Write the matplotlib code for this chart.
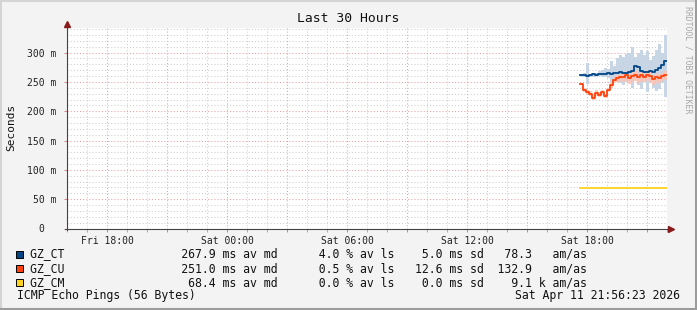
import numpy as np
import pandas as pd
import matplotlib
matplotlib.use("Agg")
import matplotlib.pyplot as plt
import matplotlib.dates as mdates
import matplotlib.ticker as ticker
from matplotlib.patches import Rectangle
from matplotlib.lines import Line2D
from matplotlib.transforms import ScaledTranslation

plt.rcParams["font.family"] = "DejaVu Sans Mono"

W, H = 697, 310

# window shown and sample times (one value every 9 minutes)
t_from = "2026-04-10 16:00"
t_to = "2026-04-11 22:00"
t_start = "2026-04-11 17:39"
step_min = 9

# round trip times in ms
ct_med = [261, 261, 260, 261, 263, 262, 263, 264, 263, 265, 264, 266, 265, 267, 266,
          266, 267, 268, 277, 276, 268, 267, 267, 268, 267, 270, 273, 279, 285]
ct_lo = [259, 258, 246, 258, 259, 259, 260, 258, 258, 256, 248, 255, 250, 249, 245,
         250, 252, 240, 255, 245, 238, 250, 232, 248, 240, 235, 238, 248, 225]
ct_hi = [262, 265, 282, 264, 266, 266, 268, 270, 273, 272, 285, 278, 290, 296, 292,
         298, 300, 310, 292, 300, 305, 296, 302, 288, 295, 305, 315, 300, 330]

cu_med = [246, 236, 233, 230, 223, 231, 228, 232, 226, 236, 244, 253, 257, 259, 258,
          261, 257, 260, 262, 258, 261, 259, 262, 260, 255, 258, 257, 260, 262]
cu_lo = [244, 232, 230, 226, 220, 226, 224, 228, 222, 232, 240, 248, 250, 252, 250,
         252, 246, 250, 252, 248, 250, 250, 252, 248, 244, 248, 248, 252, 254]
cu_hi = [248, 240, 236, 234, 228, 236, 232, 236, 230, 240, 248, 258, 262, 264, 266,
         268, 264, 268, 270, 266, 268, 266, 270, 268, 262, 266, 264, 266, 268]

cm_med = [68.4, 68.4, 68.5, 68.4, 68.4, 68.3, 68.4, 68.4, 68.5, 68.4, 68.4, 68.4, 68.3, 68.4, 68.4,
          68.4, 68.5, 68.4, 68.4, 68.4, 68.3, 68.4, 68.4, 68.4, 68.5, 68.4, 68.4, 68.4, 68.4]

# legend stats
names = ["GZ_CT", "GZ_CU", "GZ_CM"]
colors = ["#004586", "#ff420e", "#ffd320"]
med_ms = [267.9, 251.0, 68.4]
loss_pct = [4.0, 0.5, 0.0]
sd_ms = [5.0, 12.6, 0.0]
am_as = [78.3, 132.9, 9100.0]

bg = "#f3f3f3"
fig = plt.figure(figsize=(W / 100, H / 100), dpi=100, facecolor=bg)


def fx(px):
    return px / W


def fy(py):
    return 1 - py / H


ax = fig.add_axes([fx(67), fy(228.5), fx(667) - fx(67), fy(28) - fy(228.5)])
ax.set_facecolor("white")

t = pd.date_range(t_start, periods=len(ct_med) + 1, freq=f"{step_min}min")
tn = mdates.date2num(t.to_pydatetime())


def ext(v):
    return np.append(v, v[-1])


ax.fill_between(tn, ext(ct_lo), ext(ct_hi), step="post", color="#c8d5e4", lw=0, zorder=2)
ax.fill_between(tn, ext(cu_lo), ext(cu_hi), step="post", color="#fcc3b4", lw=0, alpha=0.85, zorder=2)
ax.step(tn, ext(ct_med), where="post", color=colors[0], lw=1.3, zorder=4)
ax.step(tn, ext(cu_med), where="post", color=colors[1], lw=1.3, zorder=4)
ax.step(tn, ext(cm_med), where="post", color=colors[2], lw=1.3, zorder=4)

ax.set_xlim(mdates.date2num(pd.Timestamp(t_from)), mdates.date2num(pd.Timestamp(t_to)))
ax.set_ylim(0, 342)

ax.xaxis.set_major_locator(mdates.HourLocator(byhour=range(0, 24, 3)))
ax.xaxis.set_minor_locator(mdates.HourLocator())


def xfmt(v, pos):
    d = mdates.num2date(v)
    return d.strftime("%a %H:%M") if d.hour % 6 == 0 else ""


ax.xaxis.set_major_formatter(ticker.FuncFormatter(xfmt))
ax.yaxis.set_major_locator(ticker.MultipleLocator(50))
ax.yaxis.set_minor_locator(ticker.MultipleLocator(10))
ax.yaxis.set_major_formatter(ticker.FuncFormatter(lambda v, p: "0" if v == 0 else "%d m" % v))

ax.grid(which="major", color="#eca0a0", ls=(0, (1, 2)), lw=0.75, zorder=1)
ax.grid(which="minor", color="#cfcfcf", ls=(0, (1, 2)), lw=0.75, zorder=1)
ax.set_axisbelow(True)

ax.tick_params(axis="both", which="both", labelsize=7, colors="#222222")
ax.tick_params(axis="x", which="major", length=2.5, width=0.7, color="#e08080", pad=3)
ax.tick_params(axis="x", which="minor", length=2, width=0.7, color="#aaaaaa")
ax.tick_params(axis="y", which="major", length=2.5, width=0.7, color="#e08080", pad=5)
ax.tick_params(axis="y", which="minor", length=0)

for lab in ax.get_yticklabels():
    if lab.get_text() == "0":
        lab.set_transform(lab.get_transform() + ScaledTranslation(-0.12, 0, fig.dpi_scale_trans))

for s in ax.spines.values():
    s.set_visible(False)

# axes with arrows
ax.plot([-0.003, 1.005], [0, 0], transform=ax.transAxes, color="#444444", lw=0.8, clip_on=False, zorder=5)
ax.plot([0, 0], [-0.005, 1.02], transform=ax.transAxes, color="#444444", lw=0.8, clip_on=False, zorder=5)
ax.plot([1.007], [0], transform=ax.transAxes, marker=">", ms=4.5, color="#8b1a1a", clip_on=False, zorder=6)
ax.plot([0], [1.022], transform=ax.transAxes, marker="^", ms=4.5, color="#8b1a1a", clip_on=False, zorder=6)

# texts
fig.text(0.5, fy(19), "Last 30 Hours", ha="center", va="center", fontsize=9.4, color="#111111")
fig.text(fx(11), fy(127), "Seconds", ha="center", va="center", rotation=90, fontsize=8, color="#111111")
fig.text(fx(688), fy(6), "RRDTOOL / TOBI OETIKER", ha="center", va="top", rotation=-90,
         fontsize=5.9, color="#a8a8a8")

rows_y = [254, 268.5, 282.5]
for name, c, m, lo, sd, a, y in zip(names, colors, med_ms, loss_pct, sd_ms, am_as, rows_y):
    if a >= 1000:
        astr = "%.1f k" % (a / 1000)
    else:
        astr = "%.1f  " % a
    line = ("%-5s" % name + ("%.1f ms av md" % m).rjust(31)
            + ("%.1f %% av ls" % lo).rjust(17) + ("%.1f ms sd" % sd).rjust(13)
            + astr.rjust(9) + " am/as")
    fig.add_artist(Rectangle((fx(16), fy(y + 3.5)), fx(7), 7 / H, transform=fig.transFigure,
                             facecolor=c, edgecolor="black", lw=0.7))
    fig.text(fx(30), fy(y), line, ha="left", va="center", fontsize=8.32, color="#111111")

fig.text(fx(17), fy(296), "ICMP Echo Pings (56 Bytes)", ha="left", va="center", fontsize=8.32, color="#111111")
fig.text(fx(680), fy(296), "Sat Apr 11 21:56:23 2026", ha="right", va="center", fontsize=8.32, color="#111111")

# 3d frame
fig.add_artist(Line2D([0, 1], [fy(1), fy(1)], transform=fig.transFigure, color="#d4d4d4", lw=1.5))
fig.add_artist(Line2D([fx(1), fx(1)], [0, 1], transform=fig.transFigure, color="#d4d4d4", lw=1.5))
fig.add_artist(Line2D([0, 1], [fy(308.5), fy(308.5)], transform=fig.transFigure, color="#9c9c9c", lw=2.2))
fig.add_artist(Line2D([fx(695.5), fx(695.5)], [0, 1], transform=fig.transFigure, color="#9c9c9c", lw=2.2))

fig.savefig("out.png", dpi=100, facecolor=bg)
